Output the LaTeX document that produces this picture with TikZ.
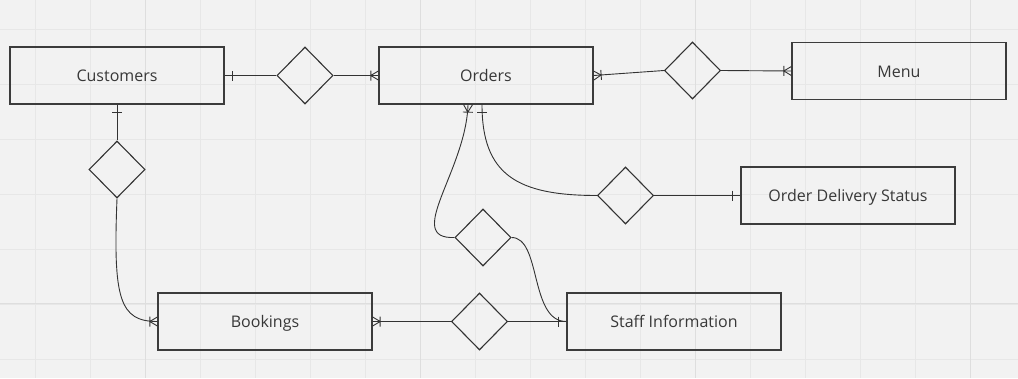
\documentclass[tikz,border=0pt]{standalone}
\usepackage{xcolor}
\usepackage{fontspec}
\setmainfont{Open Sans}
\usetikzlibrary{shapes.geometric}

\definecolor{canvas}{HTML}{F2F2F2}
\definecolor{gridminor}{HTML}{E7E7E7}
\definecolor{gridmajor}{HTML}{DEDEDE}
\definecolor{boxline}{HTML}{3C3C3C}
\definecolor{linkline}{HTML}{333333}
\definecolor{labeltext}{HTML}{383838}

% ER end markers: single bar (one) and bar + crow's foot (many)
\pgfdeclarearrow{
  name = erone,
  setup code = {
    \pgfarrowssetbackend{-8pt}
    \pgfarrowssetvisualbackend{-8pt}
    \pgfarrowssetlineend{0pt}
    \pgfarrowshullpoint{0pt}{5pt}
    \pgfarrowshullpoint{-8pt}{5pt}
    \pgfarrowshullpoint{0pt}{-5pt}
    \pgfarrowshullpoint{-8pt}{-5pt}
  },
  drawing code = {
    \pgfsetdash{}{0pt}
    \pgfpathmoveto{\pgfqpoint{-8pt}{5pt}}
    \pgfpathlineto{\pgfqpoint{-8pt}{-5pt}}
    \pgfusepathqstroke
  },
}
\pgfdeclarearrow{
  name = ermany,
  setup code = {
    \pgfarrowssetbackend{-8pt}
    \pgfarrowssetvisualbackend{-8pt}
    \pgfarrowssetlineend{0pt}
    \pgfarrowshullpoint{0pt}{5pt}
    \pgfarrowshullpoint{-8pt}{5pt}
    \pgfarrowshullpoint{0pt}{-5pt}
    \pgfarrowshullpoint{-8pt}{-5pt}
  },
  drawing code = {
    \pgfsetdash{}{0pt}
    \pgfpathmoveto{\pgfqpoint{-7.5pt}{5pt}}
    \pgfpathlineto{\pgfqpoint{-7.5pt}{-5pt}}
    \pgfpathmoveto{\pgfqpoint{0pt}{4.5pt}}
    \pgfpathlineto{\pgfqpoint{-7.5pt}{0pt}}
    \pgfpathlineto{\pgfqpoint{0pt}{-4.5pt}}
    \pgfusepathqstroke
  },
}

\tikzset{
  entity/.style={draw=boxline, line width=1.3pt, minimum width=214pt, minimum height=57pt,
    inner sep=0pt, text height=12pt, text depth=0pt, text=labeltext,
    font=\fontsize{16}{19}\selectfont},
  relation/.style={draw=linkline, diamond, line width=1.1pt, minimum width=56pt,
    minimum height=57pt, inner sep=0pt},
  link/.style={draw=linkline, line width=0.9pt},
  gridrule/.style={draw=gridminor, line width=0.9pt},
}

\begin{document}
\begin{tikzpicture}[x=1pt, y=-1pt]
  \fill[canvas] (0,0) rectangle (1018,378);
  \useasboundingbox (0,0) rectangle (1018,378);
  \foreach \gx in {35,90,...,970}
    \draw[gridrule] (\gx,0) -- (\gx,378);
  \foreach \gy in {29,84,...,359}
    \draw[gridrule] (0,\gy) -- (1018,\gy);
  \foreach \gx in {145,420,695,970}
    \draw[gridrule, draw=gridmajor] (\gx,0) -- (\gx,378);
  \draw[gridrule, draw=gridmajor] (0,303) -- (1018,303);

  \node[entity] (customers) at (117,75.5) {Customers};
  \node[entity] (orders) at (486,75.5) {Orders};
  \node[entity] (menu) at (899,71) {Menu};
  \node[entity] (status) at (848,195.5) {Order Delivery Status};
  \node[entity] (bookings) at (265,321.5) {Bookings};
  \node[entity] (staff) at (674,321.5) {Staff Information};

  \node[relation] (places) at (305,75.5) {};
  \node[relation] (contains) at (692.5,70.5) {};
  \node[relation] (makes) at (117,169.5) {};
  \node[relation] (tracked) at (625.5,195.5) {};
  \node[relation] (handles) at (483,237.5) {};
  \node[relation] (serves) at (479.5,321.5) {};

  \draw[link, erone-] (customers.east) -- (places.west);
  \draw[link, -ermany] (places.east) -- (orders.west);
  \draw[link, ermany-] (orders.east) -- (contains.west);
  \draw[link, -ermany] (contains.east) -- (menu.west);
  \draw[link, erone-] (customers.south) -- (makes.north);
  \draw[link, -ermany] (makes.south) .. controls +(-4,100) and +(-38,0) .. (bookings.west);
  \draw[link, ermany-] (bookings.east) -- (serves.west);
  \draw[link, -erone] (serves.east) -- (staff.west);
  \draw[link, ermany-] ([xshift=-18pt]orders.south) .. controls +(-2,66) and +(-51,2) .. (handles.west);
  \draw[link, -erone] (handles.east) .. controls +(30,0) and +(-37,0) .. (staff.west);
  \draw[link, erone-] ([xshift=-4pt]orders.south) .. controls +(0,70) and +(-80,0) .. (tracked.west);
  \draw[link, -erone] (tracked.east) -- (status.west);
\end{tikzpicture}
\end{document}
